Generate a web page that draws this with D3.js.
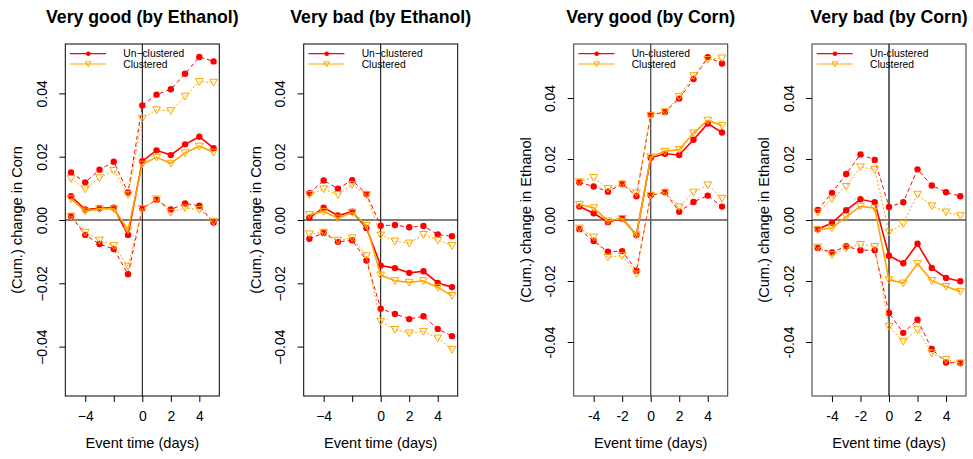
<!DOCTYPE html>
<html lang="en">
<head>
<meta charset="UTF-8">
<title>Event study panels</title>
<script src="https://cdn.jsdelivr.net/npm/d3@7"></script>
<style>
  body { margin: 0; background: #fff; }
  text { font-family: "Liberation Sans", Arial, sans-serif; fill: #000; }
</style>
</head>
<body>
<svg id="chart" width="973" height="459"></svg>
<script>
// event days
const days = [-5, -4, -3, -2, -1, 0, 1, 2, 3, 4, 5]
const xTicks = [-4, -2, 0, 2, 4]
const yTicks = [-0.04, -0.02, 0, 0.02, 0.04]
const titles = ['Very good (by Ethanol)', 'Very bad (by Ethanol)', 'Very good (by Corn)', 'Very bad (by Corn)']
const yLabels = ['(Cum.) change in Corn', '(Cum.) change in Corn', '(Cum.) change in Ethanol', '(Cum.) change in Ethanol']

// Very good (by Ethanol)
const goodEthUnEst = [0.0075, 0.0033, 0.0037, 0.0039, -0.0047, 0.0186, 0.0220, 0.0205, 0.0239, 0.0263, 0.0227]
const goodEthUnHi  = [0.0150, 0.0119, 0.0159, 0.0184, 0.0087, 0.0362, 0.0396, 0.0413, 0.0462, 0.0515, 0.0501]
const goodEthUnLo  = [0.0012, -0.0047, -0.0076, -0.0092, -0.0171, 0.0036, 0.0064, 0.0033, 0.0052, 0.0045, -0.0008]
const goodEthClEst = [0.0067, 0.0028, 0.0035, 0.0035, -0.0031, 0.0176, 0.0198, 0.0179, 0.0212, 0.0233, 0.0214]
const goodEthClHi  = [0.0131, 0.0098, 0.0133, 0.0156, 0.0080, 0.0321, 0.0348, 0.0345, 0.0391, 0.0437, 0.0435]
const goodEthClLo  = [0.0012, -0.0039, -0.0064, -0.0081, -0.0146, 0.0036, 0.0066, 0.0024, 0.0038, 0.0033, -0.0004]

// Very bad (by Ethanol)
const badEthUnEst = [0.0007, 0.0039, 0.0014, 0.0026, -0.0025, -0.0144, -0.0152, -0.0167, -0.0162, -0.0199, -0.0212]
const badEthUnHi  = [0.0085, 0.0125, 0.0099, 0.0126, 0.0082, -0.0018, -0.0016, -0.0023, -0.0019, -0.0046, -0.0051]
const badEthUnLo  = [-0.0059, -0.0041, -0.0069, -0.0064, -0.0128, -0.0280, -0.0297, -0.0313, -0.0304, -0.0344, -0.0367]
const badEthClEst = [0.0017, 0.0027, 0.0006, 0.0024, -0.0017, -0.0174, -0.0192, -0.0197, -0.0192, -0.0213, -0.0239]
const badEthClHi  = [0.0080, 0.0098, 0.0080, 0.0112, 0.0080, -0.0048, -0.0067, -0.0073, -0.0046, -0.0064, -0.0081]
const badEthClLo  = [-0.0044, -0.0039, -0.0064, -0.0057, -0.0113, -0.0320, -0.0346, -0.0357, -0.0352, -0.0373, -0.0409]

// Very good (by Corn)
const goodCornUnEst = [0.0044, 0.0022, -0.0007, 0.0005, -0.0049, 0.0204, 0.0217, 0.0213, 0.0263, 0.0316, 0.0287]
const goodCornUnHi  = [0.0123, 0.0110, 0.0093, 0.0118, 0.0078, 0.0345, 0.0354, 0.0398, 0.0462, 0.0534, 0.0513]
const goodCornUnLo  = [-0.0030, -0.0069, -0.0104, -0.0102, -0.0166, 0.0081, 0.0091, 0.0027, 0.0059, 0.0080, 0.0044]
const goodCornClEst = [0.0051, 0.0040, -0.0003, 0.0005, -0.0049, 0.0207, 0.0225, 0.0231, 0.0285, 0.0327, 0.0310]
const goodCornClHi  = [0.0125, 0.0139, 0.0103, 0.0118, 0.0089, 0.0343, 0.0355, 0.0405, 0.0473, 0.0526, 0.0531]
const goodCornClLo  = [-0.0027, -0.0056, -0.0122, -0.0117, -0.0177, 0.0081, 0.0091, 0.0043, 0.0091, 0.0115, 0.0071]

// Very bad (by Corn)
const badCornUnEst = [-0.0030, -0.0010, 0.0032, 0.0068, 0.0058, -0.0117, -0.0142, -0.0078, -0.0157, -0.0190, -0.0201]
const badCornUnHi  = [0.0033, 0.0089, 0.0151, 0.0215, 0.0197, 0.0043, 0.0058, 0.0166, 0.0113, 0.0091, 0.0078]
const badCornUnLo  = [-0.0092, -0.0106, -0.0086, -0.0099, -0.0099, -0.0305, -0.0370, -0.0327, -0.0423, -0.0467, -0.0469]
const badCornClEst = [-0.0032, -0.0026, 0.0011, 0.0045, 0.0039, -0.0196, -0.0207, -0.0143, -0.0199, -0.0218, -0.0234]
const badCornClHi  = [0.0025, 0.0069, 0.0110, 0.0174, 0.0165, -0.0040, -0.0012, 0.0084, 0.0046, 0.0026, 0.0014]
const badCornClLo  = [-0.0089, -0.0114, -0.0092, -0.0081, -0.0087, -0.0349, -0.0398, -0.0360, -0.0436, -0.0458, -0.0469]

const red = '#ff0000'
const orange = '#ffa500'

const panels = [
  { left: 65.3, yMax: 0.0556, minus: '\u2212', skip: [-2], frame: '#000', zero: '#000', zeroW: 1,
    un: [goodEthUnEst, goodEthUnHi, goodEthUnLo], cl: [goodEthClEst, goodEthClHi, goodEthClLo] },
  { left: 303.7, yMax: 0.0556, minus: '\u2212', skip: [-2], frame: '#000', zero: '#000', zeroW: 1,
    un: [badEthUnEst, badEthUnHi, badEthUnLo], cl: [badEthClEst, badEthClHi, badEthClLo] },
  { left: 573.7, yMax: 0.0577, minus: '-', skip: [], frame: '#333', zero: '#555', zeroW: 1.4,
    un: [goodCornUnEst, goodCornUnHi, goodCornUnLo], cl: [goodCornClEst, goodCornClHi, goodCornClLo] },
  { left: 812, yMax: 0.0577, minus: '-', skip: [], frame: '#333', zero: '#666', zeroW: 2,
    un: [badCornUnEst, badCornUnHi, badCornUnLo], cl: [badCornClEst, badCornClHi, badCornClLo] }
]

const boxW = 154
const plotTop = 44
const plotBottom = 396

const svg = d3.select('#chart')

const triangle = d3.symbol().type(d3.symbolTriangle)

panels.forEach(function (p, i) {
  const x = d3.scaleLinear().domain([-5.4, 5.4]).range([p.left, p.left + boxW])
  const y = d3.scaleLinear().domain([-p.yMax, p.yMax]).range([plotBottom, plotTop])
  const fmtNum = (v, digits) => {
    const s = d3.format(digits)(Math.abs(v))
    return v < 0 ? p.minus + s : s
  }

  const g = svg.append('g')

  // axes
  const xAxis = d3.axisBottom(x).tickValues(xTicks).tickSize(6).tickPadding(9)
    .tickFormat(d => p.skip.includes(d) ? '' : fmtNum(d, 'd'))
  g.append('g').attr('transform', `translate(0,${plotBottom})`).call(xAxis)
    .call(a => a.select('.domain').remove())
    .call(a => a.selectAll('text').style('font-size', '14px'))

  const yAxis = d3.axisLeft(y).tickValues(yTicks).tickSize(6)
    .tickFormat(d => fmtNum(d, '.2f'))
  g.append('g').attr('transform', `translate(${p.left},0)`).call(yAxis)
    .call(a => a.select('.domain').remove())
    .call(a => a.selectAll('text')
      .attr('x', null).attr('dy', null)
      .attr('text-anchor', 'middle')
      .attr('transform', 'translate(-18.5,0) rotate(-90)')
      .style('font-size', '14px'))

  // reference lines at zero
  g.append('line')
    .attr('x1', p.left).attr('x2', p.left + boxW)
    .attr('y1', y(0)).attr('y2', y(0))
    .attr('stroke', '#000').attr('stroke-width', 1)
  g.append('line')
    .attr('x1', x(0)).attr('x2', x(0))
    .attr('y1', plotTop).attr('y2', plotBottom)
    .attr('stroke', p.zero).attr('stroke-width', p.zeroW)

  const line = d3.line().x(d => x(d[0])).y(d => y(d[1]))

  // series: un-clustered first, clustered drawn over it
  const groups = [
    { data: p.un, color: red, dash: '4,3', sym: 'dot' },
    { data: p.cl, color: orange, dash: '2,2', sym: 'tri' }
  ]
  groups.forEach(function (s) {
    s.data.forEach(function (vals, k) {
      const pts = days.map((d, j) => [d, vals[j]])
      g.append('path')
        .attr('d', line(pts))
        .attr('fill', 'none')
        .attr('stroke', s.color)
        .attr('stroke-width', k === 0 ? 1.6 : 1)
        .attr('stroke-dasharray', k === 0 ? null : s.dash)
      if (s.sym === 'dot') {
        g.selectAll(null).data(pts).enter().append('circle')
          .attr('cx', d => x(d[0])).attr('cy', d => y(d[1]))
          .attr('r', 3.2).attr('fill', s.color)
      } else {
        g.selectAll(null).data(pts).enter().append('path')
          .attr('d', triangle.size(26)())
          .attr('transform', d => `translate(${x(d[0])},${y(d[1]) - 0.8}) rotate(180)`)
          .attr('fill', 'none').attr('stroke', s.color).attr('stroke-width', 1)
      }
    })
  })

  // frame
  g.append('rect')
    .attr('x', p.left).attr('y', plotTop)
    .attr('width', boxW).attr('height', plotBottom - plotTop)
    .attr('fill', 'none').attr('stroke', p.frame).attr('stroke-width', 1)

  // legend
  const leg = g.append('g')
  const legItems = [
    { label: 'Un' + p.minus + 'clustered', color: red, sym: 'dot', yy: 53.7 },
    { label: 'Clustered', color: orange, sym: 'tri', yy: 64 }
  ]
  legItems.forEach(function (it) {
    leg.append('line')
      .attr('x1', p.left + 4.7).attr('x2', p.left + 40.7)
      .attr('y1', it.yy).attr('y2', it.yy)
      .attr('stroke', it.color).attr('stroke-width', 1.2)
    if (it.sym === 'dot') {
      leg.append('circle').attr('cx', p.left + 23).attr('cy', it.yy).attr('r', 2.3).attr('fill', it.color)
    } else {
      leg.append('path').attr('d', triangle.size(14)())
        .attr('transform', `translate(${p.left + 23},${it.yy - 0.5}) rotate(180)`)
        .attr('fill', 'none').attr('stroke', it.color)
    }
    leg.append('text')
      .attr('x', p.left + 58).attr('y', it.yy).attr('dy', '0.35em')
      .style('font-size', '10.3px')
      .text(it.label)
  })

  // title and axis labels
  g.append('text')
    .attr('x', p.left + boxW / 2).attr('y', 22.5)
    .attr('text-anchor', 'middle')
    .style('font-size', '17.7px').style('font-weight', 'bold')
    .text(titles[i])

  g.append('text')
    .attr('x', p.left + boxW / 2).attr('y', 447.5)
    .attr('text-anchor', 'middle')
    .style('font-size', '14.6px')
    .text('Event time (days)')

  g.append('text')
    .attr('transform', `translate(${p.left - 43},${(plotTop + plotBottom) / 2}) rotate(-90)`)
    .attr('text-anchor', 'middle')
    .style('font-size', '14.6px')
    .text(yLabels[i])
})
</script>
</body>
</html>
